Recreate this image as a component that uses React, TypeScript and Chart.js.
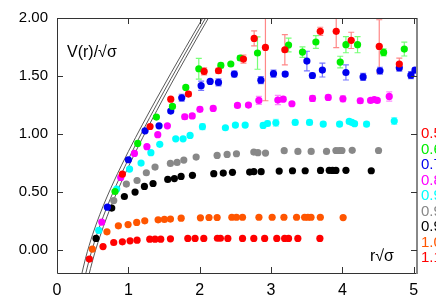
import React, { useEffect, useRef } from "react";
import { Chart, registerables } from "chart.js";

Chart.register(...registerables);

// ---------- data ----------
const xTicks = [0, 1, 2, 3, 4, 5];
const yTicks = [0, 0.5, 1, 1.5, 2];
const xTitle = "r√σ";
const yTitle = "V(r)/√σ";

const seriesLabels = ["0.57", "0.68", "0.78", "0.86", "0.92", "0.95", "0.98", "1.02", "1.10"];
const seriesColors = ["#ff0000", "#00ee00", "#0000ee", "#ff00ff", "#00ffff", "#888888", "#000000", "#ff5500", "#ff0000"];
const errColors = ["#ff8888", "#77ff77", "#7777ff", "#ff88ff", "#88ffff", "#bbbbbb", "#666666", "#ffaa77", "#ff8888"];

// [r, V, error]
const s057: number[][] = [
  [0.916, 0.653, 0], [1.304, 1.064, 0], [1.594, 1.3, 0], [1.842, 1.344, 0.02], [2.062, 1.539, 0.03],
  [2.263, 1.545, 0.02], [2.613, 1.646, 0.035], [2.763, 1.824, 0.065], [2.921, 1.746, 0.46],
  [3.193, 1.726, 0.13], [3.689, 1.885, 0.035], [3.913, 1.885, 0.14], [4.123, 1.807, 0.07],
  [4.516, 1.755, 0.23], [4.797, 1.603, 0.05],
];
const s068: number[][] = [
  [0.813, 0.503, 0], [1.131, 0.918, 0], [1.393, 1.145, 0], [1.618, 1.237, 0.015], [1.805, 1.401, 0.015],
  [1.987, 1.562, 0.09], [2.296, 1.591, 0.02], [2.436, 1.603, 0], [2.567, 1.655, 0.02], [2.81, 1.698, 0.14],
  [3.245, 1.767, 0.06], [3.44, 1.706, 0.045], [3.628, 1.793, 0.055], [3.969, 1.62, 0.05],
  [4.049, 1.77, 0.07], [4.212, 1.77, 0.07], [4.577, 1.703, 0.03], [4.867, 1.732, 0.06],
];
const s078: number[][] = [
  [0.706, 0.368, 0], [1.0, 0.777, 0], [1.234, 1.027, 0], [1.43, 1.07, 0], [1.594, 1.197, 0],
  [1.748, 1.312, 0.03], [2.02, 1.416, 0.04], [2.146, 1.453, 0], [2.263, 1.444, 0.03], [2.485, 1.516, 0.025],
  [2.857, 1.464, 0.03], [3.034, 1.52, 0.03], [3.198, 1.516, 0.02], [3.502, 1.628, 0.085],
  [3.579, 1.504, 0.02], [3.719, 1.551, 0.06], [4.049, 1.53, 0.065], [4.29, 1.492, 0.03],
  [4.526, 1.545, 0.03], [4.797, 1.571, 0.03], [4.96, 1.507, 0.03], [5.017, 1.55, 0.02],
];
const s086: number[][] = [
  [0.627, 0.239, 0], [0.893, 0.624, 0], [1.085, 0.832, 0], [1.26, 0.89, 0], [1.412, 0.993, 0],
  [1.547, 1.07, 0], [1.79, 1.148, 0.02], [1.895, 1.155, 0.02], [2.003, 1.212, 0.02], [2.189, 1.22, 0.02],
  [2.529, 1.246, 0.015], [2.683, 1.249, 0.015], [2.829, 1.289, 0.035], [3.095, 1.292, 0.04],
  [3.17, 1.3, 0.02], [3.292, 1.26, 0.015], [3.581, 1.306, 0.025], [3.801, 1.315, 0.02],
  [4.007, 1.303, 0.025], [4.25, 1.286, 0.02], [4.395, 1.289, 0.015], [4.446, 1.297, 0.015],
  [4.488, 1.289, 0.015], [4.656, 1.323, 0.04],
];
const s092: number[][] = [
  [0.585, 0.167, 0], [0.837, 0.524, 0], [1.017, 0.697, 0], [1.178, 0.748, 0], [1.316, 0.838, 0],
  [1.44, 0.91, 0], [1.664, 0.958, 0.01], [1.767, 0.958, 0.01], [1.865, 0.987, 0.015], [2.038, 1.062, 0.025],
  [2.36, 1.053, 0.01], [2.5, 1.076, 0.015], [2.637, 1.076, 0.015], [2.889, 1.073, 0.02], [2.95, 1.09, 0.02],
  [3.067, 1.096, 0.03], [3.338, 1.099, 0.02], [3.539, 1.099, 0.02], [3.731, 1.085, 0.02], [3.96, 1.085, 0.02],
  [4.095, 1.108, 0.015], [4.133, 1.099, 0.015], [4.17, 1.088, 0.015], [4.338, 1.085, 0.02], [4.726, 1.111, 0.03],
];
const s095: number[][] = [
  [0.795, 0.425, 0], [0.972, 0.567, 0], [1.122, 0.598, 0], [1.252, 0.665, 0], [1.374, 0.714, 0],
  [1.589, 0.745, 0], [1.683, 0.754, 0], [1.777, 0.774, 0], [1.95, 0.8, 0], [2.244, 0.814, 0],
  [2.384, 0.823, 0], [2.515, 0.829, 0], [2.758, 0.843, 0], [2.815, 0.838, 0], [2.922, 0.835, 0],
  [3.184, 0.855, 0], [3.376, 0.849, 0], [3.562, 0.849, 0], [3.777, 0.849, 0], [3.909, 0.857, 0],
  [3.955, 0.857, 0], [3.993, 0.857, 0], [4.137, 0.858, 0], [4.506, 0.857, 0],
];
const s098: number[][] = [
  [0.547, 0.098, 0], [0.767, 0.36, 0], [0.944, 0.46, 0], [1.094, 0.498, 0], [1.225, 0.547, 0],
  [1.346, 0.572, 0], [1.552, 0.607, 0], [1.645, 0.615, 0], [1.739, 0.633, 0], [1.898, 0.643, 0],
  [2.197, 0.657, 0], [2.33, 0.662, 0], [2.459, 0.669, 0], [2.7, 0.671, 0], [2.758, 0.674, 0],
  [2.861, 0.674, 0], [3.114, 0.679, 0], [3.3, 0.682, 0], [3.478, 0.682, 0], [3.693, 0.685, 0],
  [3.815, 0.686, 0], [3.861, 0.685, 0], [3.909, 0.685, 0], [4.049, 0.686, 0], [4.404, 0.682, 0],
];
const s102: number[][] = [
  [0.495, 0.006, 0], [0.7, 0.155, 0], [0.86, 0.207, 0], [0.996, 0.218, 0], [1.117, 0.236, 0],
  [1.23, 0.25, 0], [1.417, 0.259, 0], [1.505, 0.262, 0], [1.59, 0.265, 0], [1.74, 0.273, 0],
  [2.01, 0.276, 0], [2.13, 0.279, 0], [2.244, 0.279, 0], [2.45, 0.281, 0], [2.515, 0.281, 0],
  [2.6, 0.281, 0], [2.83, 0.281, 0], [3.015, 0.281, 0], [3.18, 0.281, 0], [3.357, 0.281, 0],
  [3.47, 0.281, 0], [3.516, 0.281, 0], [3.56, 0.281, 0], [3.69, 0.281, 0], [4.01, 0.278, 0],
];
const s110: number[][] = [
  [0.453, -0.08, 0], [0.645, 0.028, 0], [0.795, 0.063, 0], [0.916, 0.069, 0], [1.024, 0.078, 0],
  [1.122, 0.083, 0], [1.3, 0.092, 0], [1.374, 0.092, 0], [1.454, 0.092, 0], [1.59, 0.095, 0],
  [1.833, 0.098, 0], [1.935, 0.098, 0], [2.057, 0.098, 0], [2.248, 0.1, 0], [2.29, 0.1, 0],
  [2.394, 0.098, 0], [2.6, 0.098, 0], [2.758, 0.098, 0], [2.91, 0.098, 0], [3.08, 0.098, 0],
  [3.19, 0.098, 0], [3.245, 0.098, 0], [3.375, 0.098, 0], [3.684, 0.098, 0],
];
const allSeries = [s057, s068, s078, s086, s092, s095, s098, s102, s110];

// reference curves [r, V]
const curveLeft: number[][] = [
  [0.34, -0.227], [0.4, -0.073], [0.45, 0.036], [0.5, 0.134], [0.6, 0.305], [0.7, 0.456], [0.8, 0.594],
  [0.9, 0.724], [1.0, 0.848], [1.2, 1.084], [1.4, 1.309], [1.6, 1.528], [1.8, 1.743], [2.0, 1.955], [2.1, 2.06],
];
const curveMid: number[][] = [
  [0.38, -0.266], [0.4, -0.212], [0.45, -0.089], [0.5, 0.019], [0.55, 0.117], [0.6, 0.207], [0.7, 0.369],
  [0.8, 0.516], [0.9, 0.652], [1.0, 0.781], [1.2, 1.025], [1.4, 1.256], [1.6, 1.479], [1.8, 1.698],
  [2.0, 1.912], [2.1, 2.018],
];
const curveRight: number[][] = [
  [0.44, -0.233], [0.5, -0.09], [0.55, 0.016], [0.6, 0.112], [0.7, 0.285], [0.8, 0.44], [0.9, 0.582],
  [1.0, 0.716], [1.2, 0.967], [1.4, 1.203], [1.6, 1.431], [1.8, 1.652], [2.0, 1.869], [2.2, 2.083],
];
const allCurves = [curveLeft, curveMid, curveRight];

const FONT = "'Liberation Sans', Arial, Helvetica, sans-serif";

const decorPlugin = {
  id: "decor",
  beforeDatasetsDraw(chart: any) {
    const { ctx, chartArea: a, scales } = chart;
    ctx.save();
    ctx.beginPath();
    ctx.rect(a.left, a.top, a.right - a.left, a.bottom - a.top);
    ctx.clip();
    chart.data.datasets.forEach((ds: any, i: number) => {
      if (!ds.errColor) return;
      ctx.strokeStyle = ds.errColor;
      ctx.lineWidth = 1.2;
      ds.data.forEach((p: any) => {
        if (!p.e) return;
        const x = scales.x.getPixelForValue(p.x);
        const y1 = scales.y.getPixelForValue(p.y - p.e);
        const y2 = scales.y.getPixelForValue(p.y + p.e);
        ctx.beginPath();
        ctx.moveTo(x, y1);
        ctx.lineTo(x, y2);
        ctx.moveTo(x - 3, y1);
        ctx.lineTo(x + 3, y1);
        ctx.moveTo(x - 3, y2);
        ctx.lineTo(x + 3, y2);
        ctx.stroke();
      });
    });
    ctx.restore();
  },
  afterDraw(chart: any) {
    const { ctx, chartArea: a, scales } = chart;
    ctx.save();
    // frame
    ctx.strokeStyle = "#333";
    ctx.lineWidth = 1;
    ctx.beginPath();
    ctx.moveTo(a.left + 0.5, a.top + 0.5);
    ctx.lineTo(a.right, a.top + 0.5);
    ctx.moveTo(a.left + 0.5, a.top);
    ctx.lineTo(a.left + 0.5, a.bottom + 0.5);
    ctx.lineTo(a.right, a.bottom + 0.5);
    ctx.stroke();
    ctx.strokeStyle = "#888";
    ctx.lineWidth = 2;
    ctx.beginPath();
    ctx.moveTo(a.right, a.top);
    ctx.lineTo(a.right, a.bottom + 1);
    ctx.stroke();
    // inner ticks
    ctx.strokeStyle = "#333";
    ctx.lineWidth = 1;
    ctx.beginPath();
    xTicks.forEach((v) => {
      const x = Math.round(scales.x.getPixelForValue(v)) + 0.5;
      ctx.moveTo(x, a.bottom);
      ctx.lineTo(x, a.bottom - 6);
      ctx.moveTo(x, a.top);
      ctx.lineTo(x, a.top + 6);
    });
    yTicks.forEach((v) => {
      const y = Math.round(scales.y.getPixelForValue(v)) + 0.5;
      ctx.moveTo(a.left, y);
      ctx.lineTo(a.left + 6, y);
      ctx.moveTo(a.right, y);
      ctx.lineTo(a.right - 6, y);
    });
    ctx.stroke();
    // axis titles
    ctx.fillStyle = "#000";
    ctx.textBaseline = "middle";
    ctx.textAlign = "left";
    ctx.font = `16px ${FONT}`;
    ctx.fillText(yTitle, a.left + 10, a.top + 35);
    ctx.fillText(xTitle, a.right - 47, a.bottom - 16);
    // legend (clipped by canvas edge)
    ctx.font = `15px ${FONT}`;
    const y0 = scales.y.getPixelForValue(1.0);
    seriesLabels.forEach((lab, i) => {
      ctx.fillStyle = seriesColors[i];
      ctx.fillText(lab, a.right + 4, y0 + i * 15.5);
    });
    ctx.restore();
  },
};

export default function App() {
  const ref = useRef<HTMLCanvasElement | null>(null);
  useEffect(() => {
    if (!ref.current) return;
    const pointSets = allSeries.map((s, i) => ({
      type: "scatter" as const,
      label: seriesLabels[i],
      data: s.map((p) => ({ x: p[0], y: p[1], e: p[2] })),
      backgroundColor: seriesColors[i],
      borderWidth: 0,
      pointRadius: 3.6,
      pointHoverRadius: 3.6,
      showLine: false,
      errColor: errColors[i],
      order: 1,
    }));
    const curveSets = allCurves.map((c, i) => ({
      type: "line" as const,
      label: "curve" + i,
      data: c.map((p) => ({ x: p[0], y: p[1] })),
      borderColor: "#444",
      borderWidth: 0.9,
      pointRadius: 0,
      showLine: true,
      fill: false,
      cubicInterpolationMode: "monotone" as const,
      order: 10,
    }));
    const chart = new Chart(ref.current, {
      type: "scatter",
      data: { datasets: [...pointSets, ...curveSets] as any },
      plugins: [decorPlugin],
      options: {
        animation: false,
        responsive: false,
        layout: { padding: { top: 18, right: 19, left: 0, bottom: 0 } },
        plugins: { legend: { display: false }, tooltip: { enabled: false } },
        scales: {
          x: {
            type: "linear",
            min: 0,
            max: 5.045,
            afterBuildTicks: (axis: any) => {
              axis.ticks = xTicks.map((v) => ({ value: v }));
            },
            afterFit: (scale: any) => {
              scale.height = 32;
            },
            grid: { display: false, drawTicks: false },
            border: { display: false },
            ticks: {
              padding: 8,
              color: "#000",
              font: { family: FONT, size: 16 },
              callback: (v: any) => String(v),
              maxRotation: 0,
            },
          },
          y: {
            type: "linear",
            min: -0.2,
            max: 2.0,
            afterBuildTicks: (axis: any) => {
              axis.ticks = yTicks.map((v) => ({ value: v }));
            },
            afterFit: (scale: any) => {
              scale.width = 57;
            },
            grid: { display: false, drawTicks: false },
            border: { display: false },
            ticks: {
              padding: 9,
              color: "#000",
              font: { family: FONT, size: 15 },
              callback: (v: any) => Number(v).toFixed(2),
            },
          },
        },
      },
    });
    return () => chart.destroy();
  }, []);
  return (
    <div style={{ position: "fixed", left: 0, top: 0, width: 436, height: 305, background: "#fff" }}>
      <canvas ref={ref} width={436} height={305} style={{ display: "block" }} />
    </div>
  );
}
